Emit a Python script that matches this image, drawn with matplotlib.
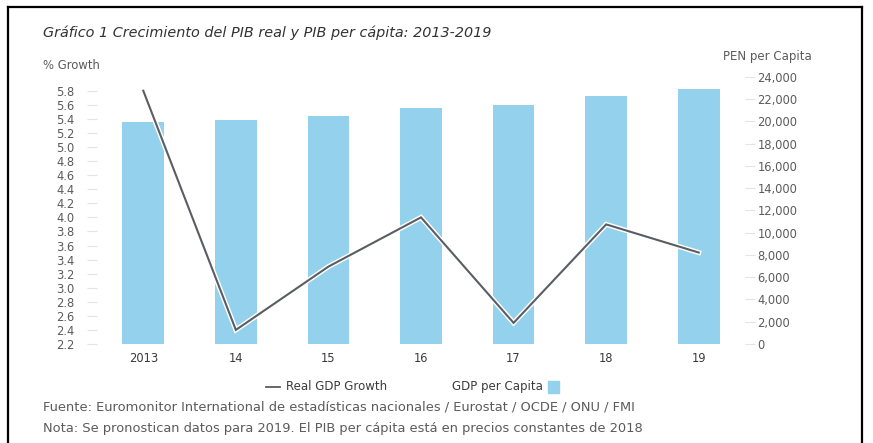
import numpy as np
import matplotlib.pyplot as plt
import matplotlib.patheffects as pe
from matplotlib.patches import Rectangle
from matplotlib.lines import Line2D

plt.rcParams['font.family'] = ['DejaVu Sans']

# data
years = ['2013', '14', '15', '16', '17', '18', '19']
gdp_growth = [5.8, 2.4, 3.3, 4.0, 2.5, 3.9, 3.5]
gdp_per_capita = [19900, 20150, 20500, 21200, 21450, 22300, 22850]
left_ticks = [2.2, 2.4, 2.6, 2.8, 3.0, 3.2, 3.4, 3.6, 3.8, 4.0, 4.2, 4.4,
              4.6, 4.8, 5.0, 5.2, 5.4, 5.6, 5.8]
right_ticks = [0, 2000, 4000, 6000, 8000, 10000, 12000, 14000, 16000,
               18000, 20000, 22000, 24000]

bar_color = '#93d1ec'
line_color = '#5a5d63'
text_color = '#5b5b5b'

fig = plt.figure(figsize=(8.73, 4.43), dpi=100)
ax = fig.add_axes([0.1111, 0.2235, 0.7423, 0.6034])
ax2 = ax.twinx()

x = np.arange(len(years))

# bars on the right axis, line on the left axis drawn on top
ax2.bar(x, gdp_per_capita, width=0.45, color=bar_color, zorder=1)
ax2.set_ylim(0, 24000)
ax2.set_yticks(right_ticks)
ax2.set_yticklabels([f'{v:,}' for v in right_ticks])

ax.set_zorder(ax2.get_zorder() + 1)
ax.patch.set_visible(False)
ax.plot(x, gdp_growth, color=line_color, lw=1.5, solid_joinstyle='miter',
        path_effects=[pe.withStroke(linewidth=3.6, foreground='white')])
ax.set_ylim(2.2, 6.0)
ax.set_yticks(left_ticks)
ax.set_yticklabels([f'{v:.1f}' for v in left_ticks])
ax.set_xlim(-0.5, 6.5)
ax.set_xticks(x)
ax.set_xticklabels(years)

for a in (ax, ax2):
    for s in a.spines.values():
        s.set_visible(False)
    a.tick_params(axis='y', length=7, width=0.8, color='#e4e4e4',
                  labelsize=8.3, labelcolor=text_color)
ax.tick_params(axis='y', pad=9)
ax2.tick_params(axis='y', pad=2)
ax.tick_params(axis='x', length=0, labelsize=8.3, labelcolor='#3a3a3a', pad=6)

# titles
fig.text(0.049, 0.925, 'Gráfico 1 Crecimiento del PIB real y PIB per cápita: 2013-2019',
         fontsize=10.4, style='italic', color='#333333', va='center')
fig.text(0.049, 0.853, '% Growth', fontsize=8.4, color=text_color, va='center')
fig.text(723 / 873, 0.873, 'PEN per Capita', fontsize=8.5, color=text_color, va='center')

# legend
ly = 1 - 386.5 / 443
fig.add_artist(Line2D([266 / 873, 280 / 873], [ly, ly], color=line_color, lw=1.3))
fig.text(286 / 873, ly, 'Real GDP Growth', fontsize=8.5, color='#3c3c3c', va='center')
fig.text(452 / 873, ly, 'GDP per Capita', fontsize=8.5, color='#3c3c3c', va='center')
fig.add_artist(Rectangle((548 / 873, ly - 6 / 443), 11 / 873, 12 / 443,
                         color=bar_color, transform=fig.transFigure))

# footnotes
fig.text(0.049, 1 - 406.5 / 443,
         'Fuente: Euromonitor International de estadísticas nacionales / Eurostat / OCDE / ONU / FMI',
         fontsize=9.4, color=text_color, va='center')
fig.text(0.049, 1 - 428.5 / 443,
         'Nota: Se pronostican datos para 2019. El PIB per cápita está en precios constantes de 2018',
         fontsize=9.4, color=text_color, va='center')

# frame
fig.add_artist(Line2D([7.5 / 873, 7.5 / 873], [0, 1 - 7 / 443], color='black', lw=1.6))
fig.add_artist(Line2D([7.5 / 873, 862 / 873], [1 - 7 / 443, 1 - 7 / 443], color='black', lw=1.6))
fig.add_artist(Line2D([862 / 873, 862 / 873], [0, 1 - 7 / 443], color='black', lw=1.6))

fig.savefig('out.png', dpi=100)
